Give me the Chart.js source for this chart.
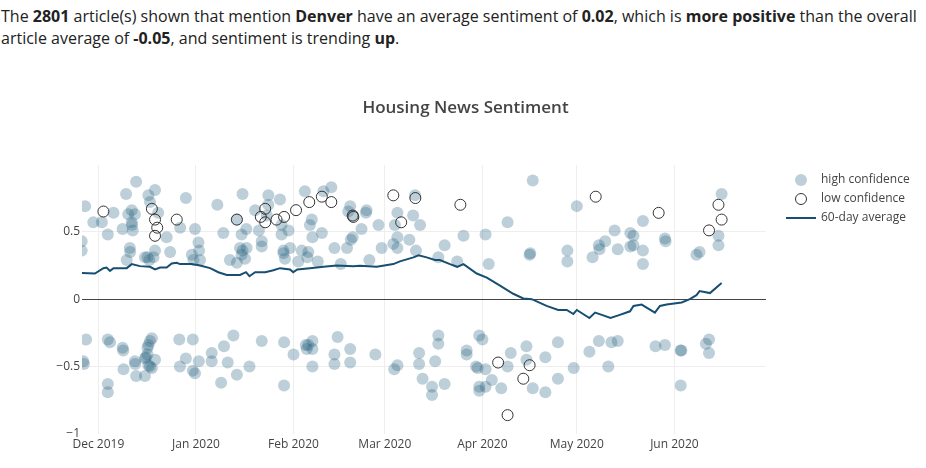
<!DOCTYPE html>
<html>
<head>
<meta charset="utf-8">
<script src="https://cdn.jsdelivr.net/npm/chart.js"></script>
<style>
  html, body { margin: 0; padding: 0; background: #fff; }
  body { width: 926px; height: 468px; position: relative; overflow: hidden; font-family: "Open Sans", sans-serif; }
  #intro { position: absolute; left: 1px; top: 5px; width: 925px; font-size: 16px; line-height: 22px; color: #222; }
  #intro b { font-weight: 700; }
  #wrap { position: absolute; left: 0; top: 75px; width: 926px; height: 393px; }
</style>
</head>
<body>
<div id="intro">The <b>2801</b> article(s) shown that mention <b>Denver</b> have an average sentiment of <b>0.02</b>, which is <b>more positive</b> than the overall article average of <b>-0.05</b>, and sentiment is trending <b>up</b>.</div>
<div id="wrap"><canvas id="c"></canvas></div>
<script>
// Days are counted from 2019-12-01 (day 0).
const xTickDays = [0, 31, 62, 91, 122, 152, 183];
const xTickLabels = ['Dec 2019', 'Jan 2020', 'Feb 2020', 'Mar 2020', 'Apr 2020', 'May 2020', 'Jun 2020'];
const yTickVals = [-1, -0.5, 0, 0.5];
const yTickLabels = ['\u22121', '\u22120.5', '0', '0.5'];

const hiDays = [
  -5.3, -5.3, -4.2, -1.6, 1.1, 3.0, 4.8, 7.7, 8.8, 9.0, 9.5, 10.6, 10.6, 10.7, 10.9, 10.0, 10.1, 12.0, 11.6,
  14.8, 15.6, 16.2, 15.9, 18.0, 16.4, 19.0, 18.0, 17.5, 21.7, 22.8, 26.0, 27.8, 29.7, 30.2, 30.7, 31.8, 32.0, 32.3,
  37.8, 39.7, 41.8, 44.0, 44.0, 45.0, 45.8, 45.5, 46.6, 45.5, 45.8, 47.0, 47.1, 49.8, 51.0, 51.9, 51.9, 54.0, 54.0,
  53.5, 57.7, 58.2, 58.2, 58.8, 58.8, 59.3, 60.4, 60.9, 63.5, 64.6, 65.6, 66.4, 66.7, 67.2, 67.8, 68.0, 69.7, 71.0,
  71.5, 74.0, 75.0, 77.0, 79.0, 79.4, 80.0, 80.8, 80.8, 80.2, 83.6, 85.0, 85.2, 86.1, 89.0, 90.0, 93.7, 94.2, 95.0,
  95.0, 95.0, 98.8, 100.0, 100.6, 100.9, 102.2,
  108.0, 110.0, 114.0, 116.0, 123.0, 124.0, 130.0, 137.0, 137.2, 138.0, 149.0, 149.0, 152.0, 157.0, 159.0, 159.2,
  161.0, 164.0, 165.0, 169.0, 170.0, 170.0, 169.0, 173.0, 173.0, 173.0, 180.0, 180.2, 190.0, 191.0, 197.0, 197.0, 198.0,
  -4.8, -4.6, -3.9, 3.0, 3.7, 3.0, 3.0, 7.7, 7.9, 8.0, 11.6, 12.0, 11.7, 14.8, 14.8, 15.1, 15.6, 15.9, 16.4, 17.0,
  15.9, 16.4, 17.0, 18.0, 15.6, 25.7, 25.9, 27.8, 30.0, 30.0, 30.7, 31.9, 36.0, 36.0, 39.0, 39.9, 41.1, 42.9, 44.0,
  48.0, 51.9, 59.0, 59.0, 62.0, 65.9, 66.2, 66.7, 68.0, 68.0, 68.0, 75.0, 75.0, 76.0, 80.0, 80.0, 88.0, 94.0, 95.0,
  101.9, 101.9, 103.0, 106.0, 106.0, 107.0, 108.0, 108.0, 110.0, 117.0, 117.0, 120.0, 120.5, 121.0, 122.0, 121.0,
  121.0, 123.0, 123.0, 125.0, 128.0, 130.0, 131.0, 136.0, 136.0, 138.0, 142.0, 142.0, 146.0, 146.0, 151.0, 156.0,
  159.0, 162.0, 163.0, 165.0, 177.0, 180.0, 185.0, 185.2, 185.0, 193.0, 194.0, 194.0
];
const hiVals = [
  0.43, 0.36, 0.69, 0.57, 0.57, 0.48, 0.64, 0.52, 0.78, 0.29, 0.63, 0.66, 0.57, 0.55, 0.51, 0.38, 0.35, 0.87, 0.63,
  0.31, 0.31, 0.29, 0.77, 0.81, 0.72, 0.64, 0.36, 0.31, 0.46, 0.35, 0.53, 0.75, 0.33, 0.29, 0.52, 0.42, 0.36, 0.29,
  0.70, 0.49, 0.29, 0.59, 0.27, 0.38, 0.36, 0.33, 0.30, 0.48, 0.78, 0.52, 0.38, 0.66, 0.51, 0.43, 0.39, 0.77, 0.70,
  0.62, 0.74, 0.55, 0.48, 0.36, 0.34, 0.30, 0.51, 0.38, 0.28, 0.36, 0.80, 0.31, 0.35, 0.55, 0.59, 0.46, 0.28, 0.49,
  0.80, 0.83, 0.38, 0.26, 0.38, 0.65, 0.69, 0.62, 0.46, 0.44, 0.52, 0.64, 0.66, 0.29, 0.55, 0.38, 0.41, 0.55, 0.64,
  0.46, 0.38, 0.44, 0.62, 0.77, 0.36, 0.55,
  0.31, 0.40, 0.28, 0.47, 0.48, 0.26, 0.57, 0.33, 0.34, 0.88, 0.36, 0.28, 0.69, 0.31, 0.40, 0.37,
  0.43, 0.51, 0.37, 0.49, 0.47, 0.40, 0.39, 0.58, 0.36, 0.26, 0.45, 0.43, 0.33, 0.35, 0.47, 0.40, 0.78,
  -0.46, -0.48, -0.30, -0.30, -0.32, -0.63, -0.69, -0.36, -0.38, -0.52, -0.46, -0.57, -0.48, -0.57, -0.44, -0.43, -0.41, -0.34, -0.31, -0.29,
  -0.49, -0.50, -0.51, -0.45, -0.36, -0.30, -0.50, -0.44, -0.30, -0.53, -0.55, -0.46, -0.40, -0.46, -0.62, -0.35, -0.47, -0.27, -0.56,
  -0.50, -0.31, -0.32, -0.64, -0.41, -0.34, -0.37, -0.34, -0.31, -0.37, -0.50, -0.41, -0.48, -0.28, -0.37, -0.47, -0.41, -0.52, -0.49,
  -0.40, -0.48, -0.59, -0.65, -0.71, -0.46, -0.27, -0.33, -0.63, -0.38, -0.41, -0.50, -0.51, -0.27, -0.30, -0.65,
  -0.68, -0.52, -0.65, -0.60, -0.66, -0.50, -0.40, -0.35, -0.45, -0.66, -0.43, -0.69, -0.32, -0.59, -0.51, -0.39,
  -0.31, -0.50, -0.32, -0.31, -0.35, -0.34, -0.38, -0.38, -0.64, -0.33, -0.30, -0.40
];

const loDays = [1.6, 17.0, 18.0, 18.7, 18.0, 24.9, 44.0, 51.6, 53.0, 53.0, 56.6, 59.0, 62.8, 67.0, 71.0, 74.0, 80.8, 81.0,
  93.7, 96.2, 100.7, 115.0, 158.0, 178.0, 194.0, 197.0, 198.0, 127.0, 130.0, 135.0, 137.0];
const loVals = [0.65, 0.67, 0.59, 0.53, 0.47, 0.59, 0.59, 0.61, 0.67, 0.57, 0.59, 0.61, 0.66, 0.72, 0.76, 0.72, 0.62, 0.61,
  0.77, 0.57, 0.75, 0.70, 0.76, 0.64, 0.51, 0.70, 0.59, -0.47, -0.86, -0.59, -0.49];

const avgDays = [-5.3, -1.1, 1.6, 2.6, 3.7, 4.8, 9.0, 10.6, 13.2, 16.4, 18.0, 19.6, 21.7, 23.3, 24.9, 25.9, 29.6, 32.3,
  35.5, 38.1, 40.8, 45.0, 46.9, 48.0, 49.8, 53.0, 55.6, 57.7, 60.9, 61.9, 63.2, 67.2, 71.5, 75.7, 81.0, 83.1, 88.4,
  93.7, 95.8, 100.1, 101.7, 104.3, 106.9, 108.5, 111.7, 114.0, 116.0, 120.2, 123.4, 127.6, 131.8, 135.0, 137.7,
  142.4, 146.1, 148.8, 150.9, 152.0, 156.0, 157.8, 160.4, 162.7, 165.2, 168.9, 170.0, 172.6, 174.7, 176.8, 178.4,
  180.5, 185.3, 187.9, 190.0, 191.0, 194.3, 198.0];
const avgVals = [0.195, 0.19, 0.23, 0.235, 0.21, 0.23, 0.23, 0.26, 0.245, 0.24, 0.22, 0.235, 0.235, 0.265, 0.27, 0.26, 0.26, 0.25,
  0.23, 0.20, 0.18, 0.18, 0.20, 0.17, 0.20, 0.20, 0.215, 0.23, 0.22, 0.20, 0.22, 0.23, 0.24, 0.25, 0.245, 0.247, 0.24,
  0.26, 0.28, 0.31, 0.325, 0.31, 0.29, 0.29, 0.26, 0.24, 0.26, 0.19, 0.16, 0.10, 0.04, 0.005, 0.0,
  -0.05, -0.08, -0.08, -0.11, -0.08, -0.14, -0.10, -0.12, -0.14, -0.12, -0.09, -0.05, -0.04, -0.07, -0.10, -0.05,
  -0.04, -0.025, 0.0, 0.03, 0.06, 0.045, 0.12];

const seriesNames = ['high confidence', 'low confidence', '60-day average'];

const HI_COLOR = 'rgba(35,95,126,0.3)';
const LO_COLOR = '#333';
const AVG_COLOR = '#174f73';
const FONT = '"Open Sans", sans-serif';

const toPts = (xs, ys) => xs.map((x, i) => ({x: x, y: ys[i]}));

// legend symbols as small images (symbol offset to the right inside the image)
function legendImg(kind) {
  const c = document.createElement('canvas');
  c.width = 44; c.height = 14;
  const g = c.getContext('2d');
  if (kind === 'hi') {
    g.fillStyle = HI_COLOR; g.beginPath(); g.arc(29, 7, 6, 0, Math.PI * 2); g.fill();
  } else if (kind === 'lo') {
    g.strokeStyle = LO_COLOR; g.lineWidth = 1; g.beginPath(); g.arc(29, 7, 5.5, 0, Math.PI * 2); g.stroke();
  } else {
    g.strokeStyle = AVG_COLOR; g.lineWidth = 2; g.beginPath(); g.moveTo(14, 7); g.lineTo(44, 7); g.stroke();
  }
  return c;
}
const legendImgs = [legendImg('hi'), legendImg('lo'), legendImg('avg')];

// measure legend width so the plot area ends where the reference's does
const mctx = document.createElement('canvas').getContext('2d');
mctx.font = '12px ' + FONT;
const maxText = Math.max(...seriesNames.map(s => mctx.measureText(s).width));
const LEG_PAD = 7, LEG_BOX = 42;
const legendWidth = LEG_PAD + (LEG_BOX + 6 + maxText) + 10;
const rightPad = Math.max(0, 926 - 766 - legendWidth);
const leftPad = Math.min(60, rightPad + 5);   // keeps the title centred like the reference

new Chart(document.getElementById('c'), {
  type: 'scatter',
  data: {
    datasets: [
      { label: seriesNames[0], data: toPts(hiDays, hiVals), order: 2, clip: 0,
        pointRadius: 6, pointHoverRadius: 6, pointBackgroundColor: HI_COLOR, pointBorderWidth: 0, borderColor: 'transparent' },
      { label: seriesNames[1], data: toPts(loDays, loVals), order: 1, clip: 0,
        pointRadius: 5.5, pointHoverRadius: 5.5, pointBackgroundColor: 'rgba(0,0,0,0)', pointBorderColor: LO_COLOR, pointBorderWidth: 1 },
      { label: seriesNames[2], data: toPts(avgDays, avgVals), order: 0, clip: 0, showLine: true,
        borderColor: AVG_COLOR, borderWidth: 2, pointRadius: 0, pointHoverRadius: 0, tension: 0, fill: false }
    ]
  },
  options: {
    responsive: true,
    maintainAspectRatio: false,
    animation: false,
    events: [],
    layout: { padding: { left: leftPad, right: rightPad, top: 0, bottom: 0 } },
    plugins: {
      tooltip: { enabled: false },
      title: {
        display: true, text: 'Housing News Sentiment', color: '#444',
        font: { family: FONT, size: 17, weight: '600' },
        padding: { top: 22.8, bottom: 46.8 }
      },
      legend: {
        position: 'right', align: 'start', fullSize: false,
        title: { display: true, text: '', padding: 0, font: { size: 2, lineHeight: 1 } },
        labels: {
          usePointStyle: true, pointStyleWidth: LEG_BOX, padding: LEG_PAD, color: '#444',
          font: { family: FONT, size: 12 },
          generateLabels: (chart) => seriesNames.map((name, i) => ({
            text: name, pointStyle: legendImgs[i], datasetIndex: i, hidden: false,
            fontColor: '#444', lineWidth: 0, strokeStyle: 'transparent', fillStyle: 'transparent'
          }))
        }
      }
    },
    scales: {
      x: {
        type: 'linear', min: -5.2, max: 212.1,
        afterBuildTicks: (s) => { s.ticks = xTickDays.map(v => ({ value: v })); },
        afterFit: (s) => { s.height = 34; },
        ticks: {
          autoSkip: false, maxRotation: 0, padding: 3, color: '#444',
          font: { family: FONT, size: 12 },
          callback: (v, i) => xTickLabels[i]
        },
        grid: { color: '#eee', lineWidth: 1, drawTicks: false },
        border: { display: false }
      },
      y: {
        type: 'linear', min: -1, max: 0.995,
        afterBuildTicks: (s) => { s.ticks = yTickVals.map(v => ({ value: v })); },
        afterFit: (s) => { s.width = 82 - leftPad; },
        ticks: {
          padding: 2, color: '#444', font: { family: FONT, size: 12 },
          callback: (v, i) => yTickLabels[i]
        },
        grid: {
          drawTicks: false, lineWidth: 1,
          color: (ctx) => ctx.tick && ctx.tick.value === 0 ? '#444' : (ctx.tick && ctx.tick.value === -1 ? 'rgba(0,0,0,0)' : '#eee')
        },
        border: { display: false }
      }
    }
  }
});
</script>
</body>
</html>
